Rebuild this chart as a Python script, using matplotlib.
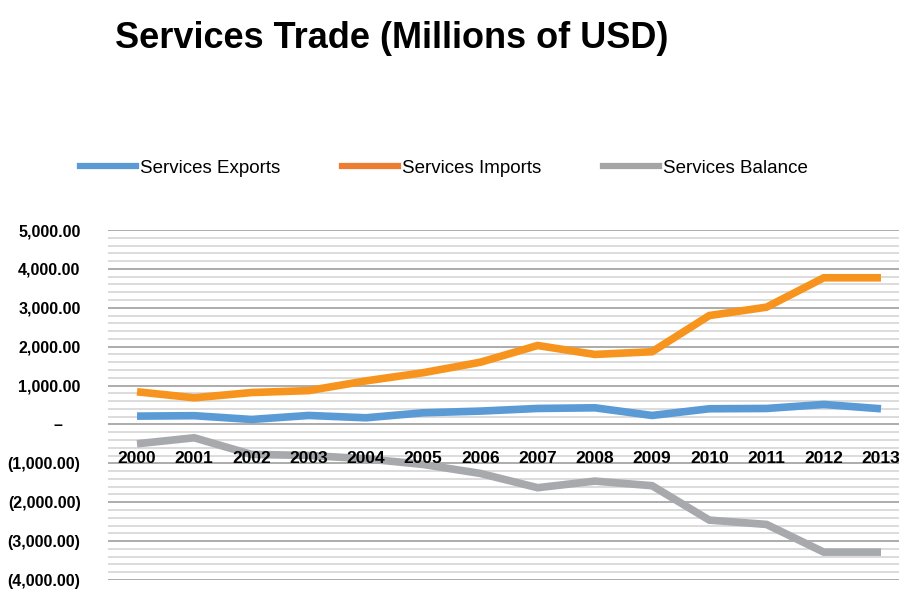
import matplotlib
matplotlib.use('Agg')
import matplotlib.pyplot as plt
from matplotlib.ticker import MultipleLocator, FuncFormatter
from matplotlib.lines import Line2D
import numpy as np

years = ['2000', '2001', '2002', '2003', '2004', '2005', '2006',
         '2007', '2008', '2009', '2010', '2011', '2012', '2013']
exports = [214, 225, 128, 231, 171, 300, 343, 411, 428, 231, 403, 411, 514, 403]
imports = [840, 686, 820, 870, 1120, 1330, 1600, 2030, 1800, 1870, 2800, 3016, 3771, 3771]
balance = [-497, -343, -771, -797, -883, -1028, -1260, -1627, -1457, -1575, -2460, -2571, -3283, -3283]

series_names = ['Services Exports', 'Services Imports', 'Services Balance']
line_colors = ['#5B9BD5', '#F7941E', '#A7A9AC']
legend_colors = ['#5B9BD5', '#ED7D31', '#A5A5A5']

plt.rcParams['font.family'] = ['Liberation Sans', 'DejaVu Sans']


def money(v, pos):
    # accounting style: dash for zero, brackets for negatives
    if abs(v) < 1e-6:
        return '–\u00a0\u00a0\u00a0\u00a0'
    if v < 0:
        return '({:,.2f})'.format(-v)
    return '{:,.2f}'.format(v)


fig = plt.figure(figsize=(8.99, 5.90), dpi=100)
ax = fig.add_axes([108.4 / 899, 10 / 590, 801.2 / 899, 350 / 590])

x = np.arange(len(years))
for vals, c in zip([exports, imports, balance], line_colors):
    ax.plot(x, vals, color=c, lw=5.5, solid_joinstyle='miter', solid_capstyle='butt', zorder=3)

ax.set_xlim(-0.5, len(years) - 0.5)
ax.set_ylim(-4000, 5000)
ax.yaxis.set_major_locator(MultipleLocator(1000))
ax.yaxis.set_minor_locator(MultipleLocator(200))
ax.yaxis.set_major_formatter(FuncFormatter(money))
ax.grid(which='minor', axis='y', color='#DCDCDC', lw=1.4)
ax.grid(which='major', axis='y', color='#A6A6A6', lw=1.3)
ax.set_axisbelow(True)

ax.set_xticks(x, years)
ax.spines['bottom'].set_position(('data', 0))
for s in ['left', 'right', 'top', 'bottom']:
    ax.spines[s].set_visible(False)
ax.tick_params(axis='x', length=0, pad=19, labelsize=12.5)
ax.tick_params(axis='y', which='both', length=0, pad=20, labelsize=11.5)
ax.xaxis.set_zorder(4)
for lab in ax.get_xticklabels() + ax.get_yticklabels():
    lab.set_fontweight('bold')

fig.text(115 / 899, 1 - 38 / 590, 'Services Trade (Millions of USD)', fontsize=26,
         fontweight='bold', ha='left', va='center')

handles = [Line2D([0], [0], color=c, lw=4.5) for c in legend_colors]
fig.legend(handles, series_names, ncol=3, loc='center',
           bbox_to_anchor=(444 / 899, 1 - 168 / 590), frameon=False,
           fontsize=13.5, handlelength=3.0, handletextpad=0.2, columnspacing=3.3)

fig.savefig('out.png', dpi=100)
